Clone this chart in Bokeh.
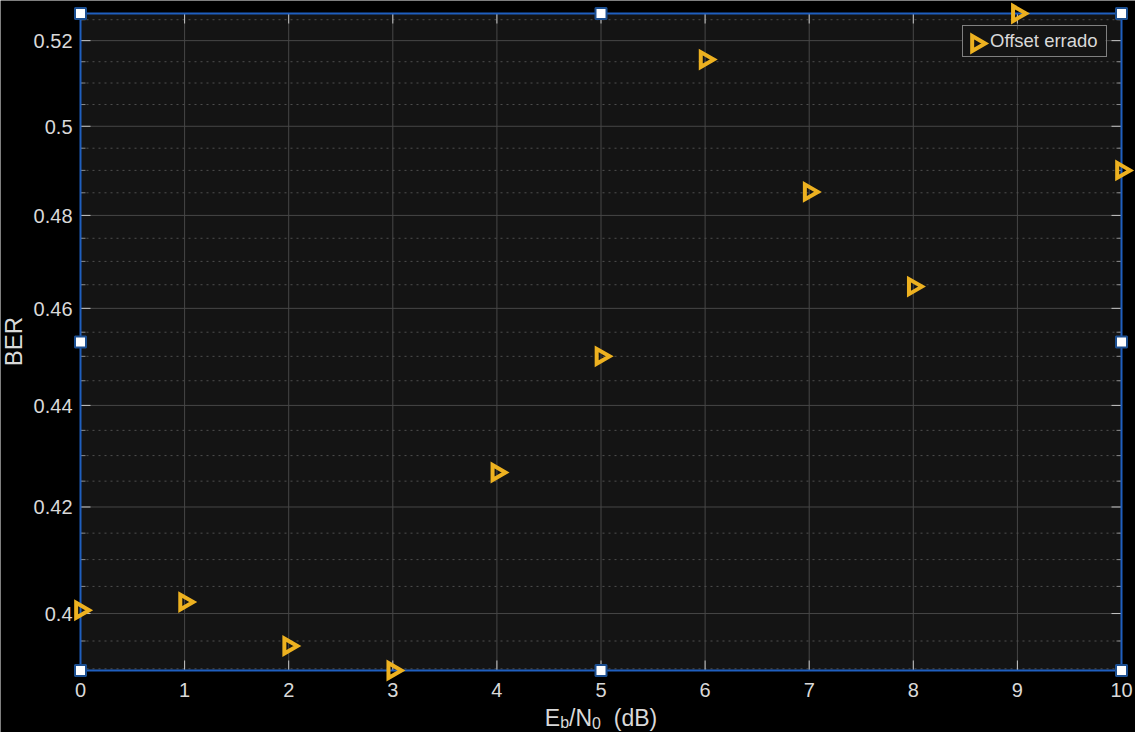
import math
from bokeh.plotting import figure
from bokeh.models import Range1d, Label, Legend, LegendItem
from bokeh.core.properties import value
from bokeh.embed import file_html
from bokeh.resources import INLINE

# ---------------- data ----------------
eb_n0 = [0, 1, 2, 3, 4, 5, 6, 7, 8, 9, 10]
ber = [0.4006, 0.4021, 0.3941, 0.3897, 0.4267, 0.4500, 0.5155, 0.4852, 0.4646, 0.5265, 0.4900]

x_ticks = [0, 1, 2, 3, 4, 5, 6, 7, 8, 9, 10]
x_tick_labels = ["0", "1", "2", "3", "4", "5", "6", "7", "8", "9", "10"]
y_ticks = [0.40, 0.42, 0.44, 0.46, 0.48, 0.50, 0.52]
y_tick_labels = ["0.4", "0.42", "0.44", "0.46", "0.48", "0.5", "0.52"]
y_minor = [0.390, 0.395, 0.405, 0.410, 0.415, 0.425, 0.430, 0.435, 0.445, 0.450,
           0.455, 0.465, 0.470, 0.475, 0.485, 0.490, 0.495, 0.505, 0.510, 0.515, 0.525]

series_name = "Offset errado"
y_label = "BER"
x_label_parts = [("E", "main"), ("b", "sub"), ("/N", "main"), ("0", "sub"), ("(dB)", "main")]

# ---------------- styling / layout ----------------
W, H = 1135, 732
BOX_L, BOX_R, BOX_T, BOX_B = 80, 1121, 13, 670

FONT = "Liberation Sans"
TXT = "#d9d9d9"
AX_BG = "#141414"
GRID = "#474747"
MINOR_GRID = "#4f4f4f"
TICK = "#c4c4c4"
MINOR_TICK = "#8c8c8c"
BLUE = "#1f5fbf"
HANDLE_EDGE = "#1c4f91"
ORANGE = "#EDB120"

x_lo, x_hi = min(eb_n0), max(eb_n0)
y_lo, y_hi = min(ber), max(ber)
xpp = (x_hi - x_lo) / (BOX_R - BOX_L)
lpp = (math.log10(y_hi) - math.log10(y_lo)) / (BOX_B - BOX_T)


def px_to_x(px):
    return x_lo + (px - BOX_L) * xpp


def py_to_y(py):
    return 10 ** (math.log10(y_hi) - (py - BOX_T) * lpp)


x_range = Range1d(px_to_x(0), px_to_x(W))
y_range = Range1d(py_to_y(H), py_to_y(0))

p = figure(width=W, height=H, x_range=x_range, y_range=y_range, y_axis_type="log",
           x_axis_location=None, y_axis_location=None,
           output_backend="svg", toolbar_location=None, min_border=0)
p.background_fill_color = "#000000"
p.border_fill_color = "#000000"
p.outline_line_color = None
p.grid.visible = False

# axes area background
p.quad(left=[x_lo], right=[x_hi], bottom=[y_lo], top=[y_hi], fill_color=AX_BG, line_color=None)

# grid lines (limited to axes box)
nx, ny = len(x_ticks), len(y_ticks)
minor_in = [v for v in y_minor if y_lo <= v <= y_hi]
nm = len(minor_in)
p.segment(x0=x_ticks, y0=[y_lo] * nx, x1=x_ticks, y1=[y_hi] * nx, line_color=GRID, line_width=1)
p.segment(x0=[x_lo] * ny, y0=y_ticks, x1=[x_hi] * ny, y1=y_ticks, line_color=GRID, line_width=1)
p.segment(x0=[x_lo] * nm, y0=minor_in, x1=[x_hi] * nm, y1=minor_in, line_color=MINOR_GRID,
          line_width=1, line_dash="2 4")

# ticks (inside, on all four sides)
p.ray(x=[x_lo] * ny, y=y_ticks, length=10, length_units="screen", angle=0, line_color=TICK)
p.ray(x=[x_lo] * nm, y=minor_in, length=5, length_units="screen", angle=0, line_color=MINOR_TICK)
p.ray(x=[x_hi] * ny, y=y_ticks, length=10, length_units="screen", angle=math.pi, line_color=TICK)
p.ray(x=[x_hi] * nm, y=minor_in, length=5, length_units="screen", angle=math.pi, line_color=MINOR_TICK)
p.ray(x=x_ticks, y=[y_lo] * nx, length=10, length_units="screen", angle=math.pi / 2, line_color=TICK)
p.ray(x=x_ticks, y=[y_hi] * nx, length=10, length_units="screen", angle=-math.pi / 2, line_color=TICK)

# tick labels
p.text(x=x_ticks, y=[y_lo] * nx, text=x_tick_labels, x_offset=0, y_offset=19.5,
       text_align="center", text_baseline="middle", text_font=value(FONT),
       text_font_size="20px", text_color=TXT)
p.text(x=[x_lo] * ny, y=y_ticks, text=y_tick_labels, x_offset=-8, y_offset=0.5,
       text_align="right", text_baseline="middle", text_font=value(FONT),
       text_font_size="20px", text_color=TXT)

# legend layout (pixels)
LEG_L, LEG_T, LEG_B = 962, 29, 57
LEG_PAD, LEG_GLYPH, LEG_STANDOFF, LEG_LABEL_W = 4, 20, 3, 112
LEG_R = LEG_L + 2 * LEG_PAD + LEG_GLYPH + LEG_STANDOFF + LEG_LABEL_W

# legend background (under the legend frame so the swatch can sit above it)
p.quad(left=[px_to_x(LEG_L)], right=[px_to_x(LEG_R)], bottom=[py_to_y(LEG_B)], top=[py_to_y(LEG_T)],
       fill_color=AX_BG, line_color=None)

# axes box outline (selected look)
p.quad(left=[x_lo], right=[x_hi], bottom=[y_lo], top=[y_hi], fill_color=None,
       line_color=BLUE, line_width=2)

# data markers
marker_style = dict(marker="triangle", angle=-math.pi / 2, size=15, fill_color=None,
                    line_color=ORANGE, line_width=4, line_join="miter")
r = p.scatter(eb_n0, ber, **marker_style)

# legend swatch (right-pointing marker)
sw_px = LEG_L + LEG_PAD + LEG_GLYPH / 2
sw_py = (LEG_T + LEG_B) / 2
p.scatter([px_to_x(sw_px)], [py_to_y(sw_py)], **marker_style)

# selection handles
y_mid = math.sqrt(y_lo * y_hi)
x_mid = (x_lo + x_hi) / 2
hx = [x_lo, x_mid, x_hi, x_lo, x_hi, x_lo, x_mid, x_hi]
hy = [y_hi, y_hi, y_hi, y_mid, y_mid, y_lo, y_lo, y_lo]
p.scatter(hx, hy, marker="square", size=11, fill_color="white", line_color=HANDLE_EDGE, line_width=2)

# axis titles
p.add_layout(Label(x=13, y=H - 341, x_units="screen", y_units="screen", text=y_label,
                   angle=math.pi / 2, text_align="center", text_baseline="middle",
                   text_font=FONT, text_font_size="24px", text_color=TXT))

EM = {"E": 0.667, "b": 0.556, "/": 0.278, "N": 0.722, "0": 0.556, " ": 0.278,
      "(": 0.333, "d": 0.556, "B": 0.667, ")": 0.333}
SIZES = {"main": 23, "sub": 16}
MID = {"main": 726 - 0.358 * 23, "sub": 728 - 0.358 * 16}
gap = 2 * EM[" "] * SIZES["main"]
widths = [sum(EM[c] for c in t) * SIZES[k] for t, k in x_label_parts]
total = sum(widths) + gap
cx = (BOX_L + BOX_R) / 2 - total / 2
for (t, k), w in zip(x_label_parts, widths):
    if t.startswith("("):
        cx += gap
    p.add_layout(Label(x=cx, y=H - MID[k], x_units="screen", y_units="screen", text=t,
                       text_align="left", text_baseline="middle",
                       text_font=FONT, text_font_size=f"{SIZES[k]}px", text_color=TXT))
    cx += w

# native legend: frame and label (its own glyph kept invisible; swatch drawn above)
swatch = p.scatter([], [], marker="triangle", size=1, fill_alpha=0, line_alpha=0)
legend = Legend(items=[LegendItem(label=series_name, renderers=[swatch])],
                location=(LEG_L, H - LEG_B),
                glyph_width=LEG_GLYPH, glyph_height=LEG_GLYPH, padding=LEG_PAD,
                label_standoff=LEG_STANDOFF, label_width=LEG_LABEL_W, label_height=20,
                spacing=0, margin=0,
                border_line_color="#808080", border_line_width=1, border_line_alpha=1,
                background_fill_alpha=0,
                label_text_font=FONT, label_text_font_size="18.5px", label_text_color=TXT)
p.add_layout(legend)

open("out.html", "w").write(file_html(p, INLINE))
